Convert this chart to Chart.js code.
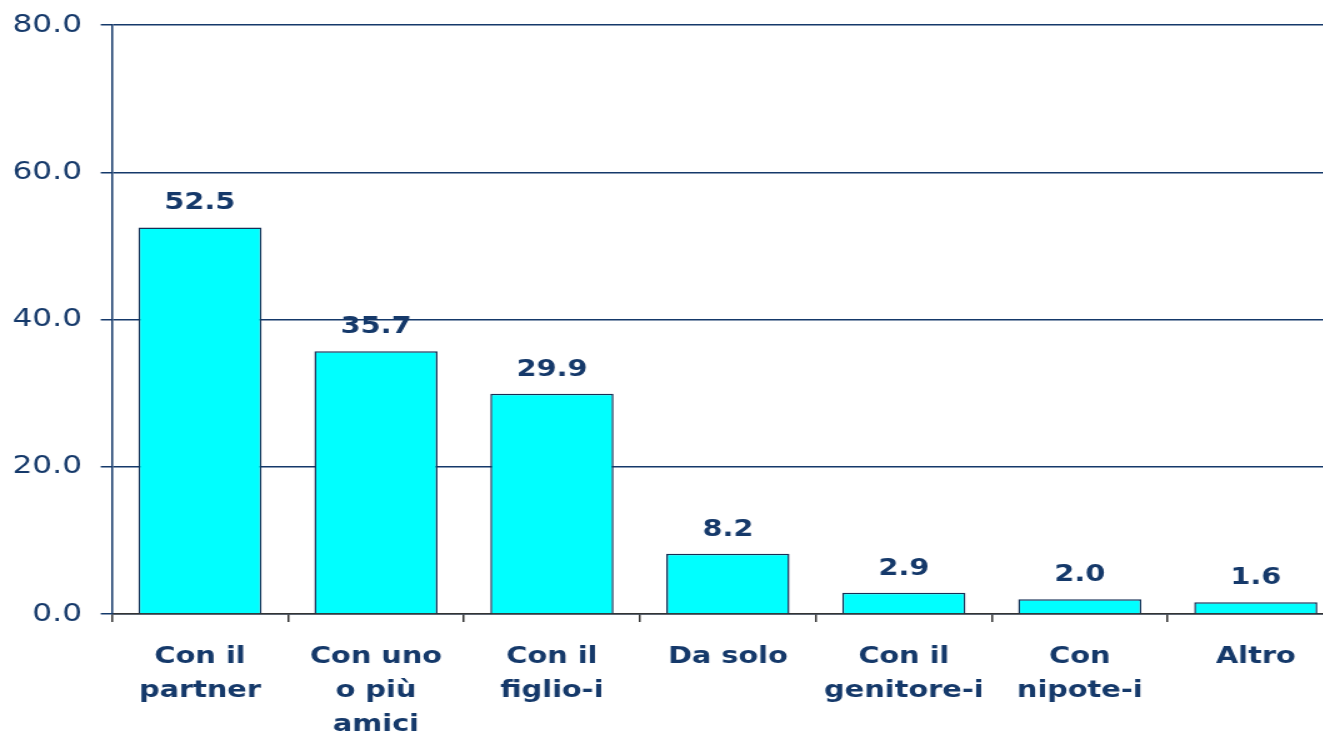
<!DOCTYPE html>
<html>
<head>
<meta charset="utf-8">
<script src="https://cdn.jsdelivr.net/npm/chart.js@4/dist/chart.umd.min.js"></script>
<style>
  html, body { margin: 0; padding: 0; background: #fff; overflow: hidden; }
  /* the original is drawn wide, so the chart is stretched sideways */
  #wrap { position: absolute; left: 0; top: 0; width: 1075px; height: 733px;
          transform: scaleX(1.25); transform-origin: 0 0; }
</style>
</head>
<body>
<div id="wrap"><canvas id="chart" width="1075" height="733"></canvas></div>
<script>
'use strict';

var categories = [
  ['Con il', 'partner'],
  ['Con uno', 'o più', 'amici'],
  ['Con il', 'figlio-i'],
  ['Da solo'],
  ['Con il', 'genitore-i'],
  ['Con', 'nipote-i'],
  ['Altro']
];
var values = [52.5, 35.7, 29.9, 8.2, 2.9, 2.0, 1.6];
var yTicks = [0, 20, 40, 60, 80];

var navy = '#15396a';
var font = 'DejaVu Sans';

// values above each bar
var valueLabels = {
  id: 'valueLabels',
  afterDatasetsDraw: function (chart) {
    var ctx = chart.ctx;
    var meta = chart.getDatasetMeta(0);
    ctx.save();
    ctx.font = 'bold 23px "' + font + '"';
    ctx.fillStyle = navy;
    ctx.textAlign = 'center';
    ctx.textBaseline = 'middle';
    meta.data.forEach(function (bar, i) {
      ctx.fillText(values[i].toFixed(1), bar.x, bar.y - 24);
    });
    ctx.restore();
  }
};

new Chart(document.getElementById('chart'), {
  type: 'bar',
  data: {
    labels: categories,
    datasets: [{
      data: values,
      backgroundColor: '#00ffff',
      borderColor: '#172f55',
      borderWidth: 1.5,
      borderSkipped: 'bottom',
      barPercentage: 0.7,
      categoryPercentage: 1
    }]
  },
  plugins: [valueLabels],
  options: {
    responsive: false,
    animation: false,
    layout: { padding: { top: 25, right: 0, left: 0, bottom: 0 } },
    plugins: { legend: { display: false }, tooltip: { enabled: false } },
    scales: {
      x: {
        offset: true,
        grid: { drawOnChartArea: false, drawTicks: true, tickLength: 8, color: '#333', lineWidth: 1.5, offset: true },
        border: { color: '#333', width: 1.5 },
        ticks: {
          color: navy,
          padding: 18,
          maxRotation: 0,
          autoSkip: false,
          font: { family: font, size: 23, weight: 'bold', lineHeight: 1.48 }
        },
        afterFit: function (scale) {
          scale.height = 119;
          scale.paddingLeft = 0;
          scale.paddingRight = 0;
        }
      },
      y: {
        min: 0,
        max: 80,
        afterBuildTicks: function (scale) {
          scale.ticks = yTicks.map(function (v) { return { value: v }; });
        },
        grid: { color: navy, lineWidth: 1.5, tickLength: 9 },
        border: { color: navy, width: 1.5 },
        ticks: {
          color: navy,
          padding: 15,
          font: { family: font, size: 25 },
          callback: function (v) { return Number(v).toFixed(1); }
        },
        afterFit: function (scale) {
          scale.width = 89.6;
          scale.paddingTop = 0;
          scale.paddingBottom = 0;
        }
      }
    }
  }
});
</script>
</body>
</html>
